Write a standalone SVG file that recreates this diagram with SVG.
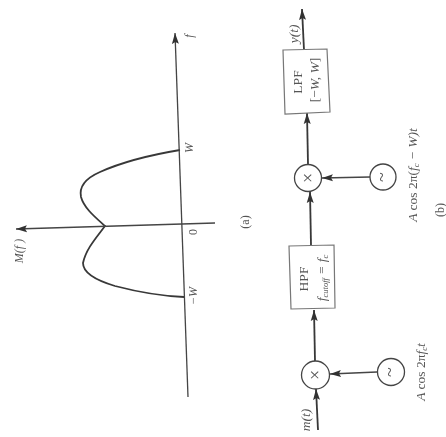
<svg xmlns="http://www.w3.org/2000/svg" width="446" height="437" viewBox="0 0 446 437">
<style>
.w{fill:#fff}
.l{fill:none;stroke:#444;stroke-width:1.3}
.h{fill:none;stroke:#383838;stroke-width:1.8}
.c{fill:none;stroke:#444;stroke-width:1.3}
.b{fill:#fff;stroke:#777;stroke-width:1.2}
text{font-family:"Liberation Serif",serif;font-size:12px;fill:#555;text-anchor:middle}
.i{font-style:italic}
.m{font-size:13.5px}
.s{font-size:8.5px}
.x{font-size:18px}
</style>
<defs>
<marker id="a" markerUnits="userSpaceOnUse" markerWidth="12" markerHeight="8" refX="11" refY="4" orient="auto">
<path d="M0 0.5L11 4L0 7.5L2 4Z" fill="#333"/>
</marker>
<filter id="blur" x="0" y="0" width="100%" height="100%"><feGaussianBlur stdDeviation="0.45"/></filter>
</defs>
<rect class="w" width="446" height="437"/>
<g filter="url(#blur)">
<g id="plot-a">
<path id="spectrum" class="h" d="M180 150C150 155 120 163 100 172C84 179 79 187 81 197C84 208 95 217 105 226C96 238 86 249 83 263C83 273 95 280 115 286C138 292 160 296 184 297"/>
<text class="i" transform="translate(193,36) rotate(-90)">f</text>
<text class="i" transform="translate(193,148) rotate(-90)">W</text>
<text transform="translate(197,232) rotate(-90)">0</text>
<text class="i" transform="translate(197,296) rotate(-90)">−W</text>
<text class="i" transform="translate(23,251) rotate(-90)">M(f )</text>
<text transform="translate(249,222) rotate(-90)">(a)</text>
</g>
<g id="connectors">
<path class="l" marker-end="url(#a)" d="M188 397L175 33"/>
<path class="l" marker-end="url(#a)" d="M215 223L16 229"/>
<path class="h" marker-end="url(#a)" d="M304 50L302 9"/>
<path class="h" marker-end="url(#a)" d="M308 164L307 113"/>
<path class="h" marker-end="url(#a)" d="M311 245L310 192"/>
<path class="h" marker-end="url(#a)" d="M315 361L314 310"/>
<path class="h" marker-end="url(#a)" d="M318 430L316 389"/>
<path class="l" marker-end="url(#a)" d="M370 177L322 178"/>
<path class="l" marker-end="url(#a)" d="M377 372L330 374"/>
</g>
<g id="lpf">
<path class="b" d="M283 50L327 49L330 112L285 114Z"/>
<text class="m" transform="translate(302,82) rotate(-90)">LPF</text>
<text class="m" transform="translate(319,80) rotate(-90)">[−<tspan class="i">W, W</tspan>]</text>
</g>
<g id="hpf">
<path class="b" d="M289 246L334 245L335 308L291 309Z"/>
<text class="m" transform="translate(308,279) rotate(-90)">HPF</text>
<text class="i m" transform="translate(326,278) rotate(-90)">f<tspan class="s" dy="2">cutoff</tspan><tspan dy="-2"> = f</tspan><tspan class="s" dy="2">c</tspan></text>
</g>
<g id="mixer-2">
<circle class="c" cx="308" cy="178" r="13.5"/>
<text class="x" transform="translate(314,178) rotate(-90)">×</text>
</g>
<g id="osc-2">
<circle class="c" cx="383" cy="177" r="13"/>
<text class="x" transform="translate(388,177) rotate(-90)">~</text>
<text class="i m" transform="translate(417,175) rotate(-90)">A <tspan font-style="normal">cos 2π(</tspan>f<tspan class="s" dy="2">c</tspan><tspan dy="-2"> − W)t</tspan></text>
</g>
<g id="mixer-1">
<circle class="c" cx="315.5" cy="375" r="14"/>
<text class="x" transform="translate(321,375) rotate(-90)">×</text>
</g>
<g id="osc-1">
<circle class="c" cx="391" cy="372" r="13.5"/>
<text class="x" transform="translate(396,372) rotate(-90)">~</text>
<text class="i m" transform="translate(425,372) rotate(-90)">A <tspan font-style="normal">cos 2π</tspan>f<tspan class="s" dy="2">c</tspan><tspan dy="-2">t</tspan></text>
</g>
<g id="labels-b">
<text class="i m" transform="translate(298,34) rotate(-90)">y(t)</text>
<text class="i m" transform="translate(310,420) rotate(-90)">m(t)</text>
<text transform="translate(444,210) rotate(-90)">(b)</text>
</g>
</g>
</svg>
